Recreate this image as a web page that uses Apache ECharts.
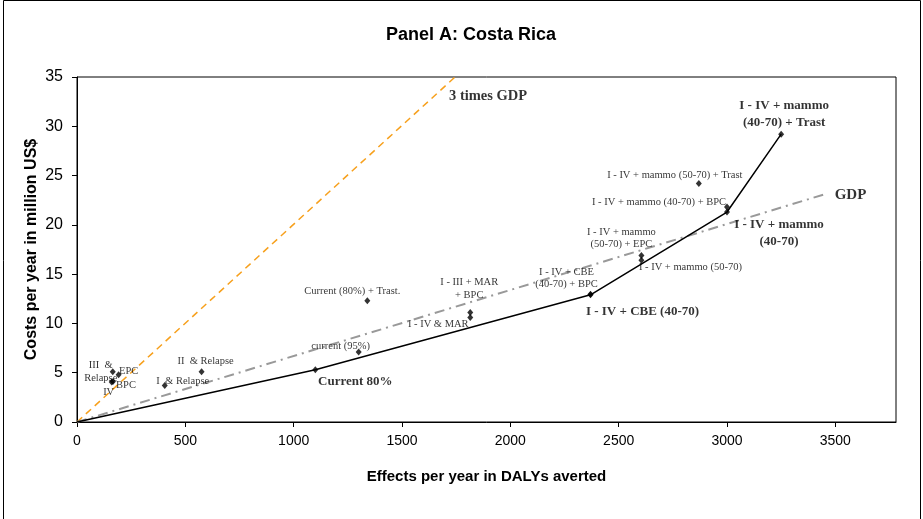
<!DOCTYPE html>
<html>
<head>
<meta charset="utf-8">
<script src="https://cdn.jsdelivr.net/npm/echarts@6/dist/echarts.min.js"></script>
<style>
  html, body { margin: 0; padding: 0; background: #fff; }
  #chart { width: 923px; height: 519px; }
</style>
</head>
<body>
<div id="chart"></div>
<script>
// Strategies that lie off the expansion path (DALYs averted per year, million US$ per year)
const otherNames = [
  'III  &\nRelapse', 'EPC', 'IV', 'BPC', 'II  & Relapse', 'I  & Relapse',
  'Current (80%) + Trast.', 'I - III + MAR\n+ BPC', 'I - IV & MAR', 'current (95%)',
  'I - IV + mammo (50-70) + Trast', 'I - IV + mammo (40-70) + BPC',
  'I - IV + mammo\n(50-70) + EPC', 'I - IV + mammo (50-70)', 'I - IV + CBE\n(40-70) + BPC'
];
const otherEffects = [165, 192, 160, 166, 575, 405, 1340, 1815, 1815, 1300, 2870, 3000, 2605, 2605, 2370];
const otherCosts   = [5.1, 4.8, 4.05, 4.1, 5.1, 3.7, 12.3, 11.1, 10.6, 7.1, 24.2, 21.8, 16.9, 16.4, 12.95];

// Expansion path (cost-effective frontier), starting at the origin
const pathNames   = ['', 'Current 80%', 'I - IV + CBE (40-70)', 'I - IV + mammo\n(40-70)', 'I - IV + mammo\n(40-70) + Trast'];
const pathEffects = [0, 1100, 2370, 3000, 3250];
const pathCosts   = [0, 5.3, 12.9, 21.3, 29.2];

// Willingness-to-pay thresholds
const gdpEffects  = [0, 3450];
const gdpCosts    = [0, 23.1];
const gdp3Effects = [0, 1745];
const gdp3Costs   = [0, 35];

// Label placement around each marker (pixels from the marker centre)
const labelOffset = {
  'III  &\nRelapse': [-12, 0],
  'EPC': [10, -3],
  'IV': [-3, 10],
  'BPC': [13, 4],
  'II  & Relapse': [4, -10],
  'I  & Relapse': [18, -4],
  'Current (80%) + Trast.': [-15, -10],
  'I - III + MAR\n+ BPC': [-1, -24],
  'I - IV & MAR': [-32, 7],
  'current (95%)': [-18, -6],
  'I - IV + mammo (50-70) + Trast': [-24, -8],
  'I - IV + mammo (40-70) + BPC': [-68, -5],
  'I - IV + mammo\n(50-70) + EPC': [-20, -17],
  'I - IV + mammo (50-70)': [49, 7],
  'I - IV + CBE\n(40-70) + BPC': [-24, -16],
  'Current 80%': [40, 12],
  'I - IV + CBE (40-70)': [52, 17],
  'I - IV + mammo\n(40-70)': [52, 21],
  'I - IV + mammo\n(40-70) + Trast': [3, -20]
};

const SANS = "'Liberation Sans', Arial, sans-serif";
const SERIF = "'Liberation Serif', 'Times New Roman', serif";

const pairs = (xs, ys) => xs.map((x, i) => [x, ys[i]]);

const otherData = otherNames.map((n, i) => ({
  name: n,
  value: [otherEffects[i], otherCosts[i]],
  label: {
    show: true, position: 'inside', offset: labelOffset[n], formatter: n,
    fontFamily: SERIF, fontSize: 10.5, lineHeight: 12.5, color: '#000'
  }
}));

const pathData = pathNames.map((n, i) => ({ name: n, value: [pathEffects[i], pathCosts[i]] }))
  .filter(d => d.name !== '')
  .map(d => ({
    name: d.name,
    value: d.value,
    label: {
      show: true, position: 'inside', offset: labelOffset[d.name], formatter: d.name,
      fontFamily: SERIF, fontSize: 13, fontWeight: 'bold', lineHeight: 17, color: '#000'
    }
  }));

const thresholdLabels = [
  { value: [gdp3Effects[1], gdp3Costs[1]], label: { show: true, position: 'inside', offset: [33, 19], formatter: '3 times GDP',
      fontFamily: SERIF, fontSize: 14.5, fontWeight: 'bold', color: '#000' } },
  { value: [gdpEffects[1], gdpCosts[1]], label: { show: true, position: 'inside', offset: [26, 1], formatter: 'GDP',
      fontFamily: SERIF, fontSize: 15, fontWeight: 'bold', color: '#000' } }
];

const chart = echarts.init(document.getElementById('chart'), null, { renderer: 'canvas' });

chart.setOption({
  animation: false,
  backgroundColor: '#fff',
  title: {
    text: 'Panel A: Costa Rica',
    left: 466, top: 21, textAlign: 'center',
    textStyle: { fontFamily: SANS, fontSize: 18, fontWeight: 'bold', color: '#000' }
  },
  graphic: [{
    type: 'rect', silent: true,
    shape: { x: 3.5, y: 0.5, width: 917, height: 540 },
    style: { fill: 'none', stroke: '#000', lineWidth: 1 }
  }],
  grid: {
    left: 77, right: 27, top: 77, bottom: 97,
    show: true, borderColor: '#000', borderWidth: 1, backgroundColor: 'transparent'
  },
  xAxis: {
    type: 'value', min: 0, max: 3780, interval: 500,
    name: 'Effects per year in DALYs averted', nameLocation: 'middle', nameGap: 47,
    nameTextStyle: { fontFamily: SANS, fontSize: 15, fontWeight: 'bold', color: '#000' },
    axisLine: { show: true, lineStyle: { color: '#000', width: 1 } },
    axisTick: { show: true, inside: false, length: 5, lineStyle: { color: '#000' } },
    axisLabel: { fontFamily: SANS, fontSize: 14, color: '#000', margin: 12, showMaxLabel: false,
      formatter: v => (v % 500 === 0 ? String(v) : '') },
    splitLine: { show: false }
  },
  yAxis: {
    type: 'value', min: 0, max: 35, interval: 5,
    name: 'Costs per year in million US$', nameLocation: 'middle', nameGap: 37,
    nameMoveOverlap: false,
    nameTextStyle: { fontFamily: SANS, fontSize: 16, fontWeight: 'bold', color: '#000' },
    axisLine: { show: true, lineStyle: { color: '#000', width: 1 } },
    axisTick: { show: true, inside: false, length: 5, lineStyle: { color: '#000' } },
    axisLabel: { fontFamily: SANS, fontSize: 16, color: '#000', margin: 14 },
    splitLine: { show: false }
  },
  series: [
    {
      name: '3 times GDP', type: 'line', data: pairs(gdp3Effects, gdp3Costs),
      symbol: 'none', silent: true, clip: false,
      lineStyle: { color: '#f7a01c', width: 1.5, type: [7, 5] }
    },
    {
      name: 'GDP', type: 'line', data: pairs(gdpEffects, gdpCosts),
      symbol: 'none', silent: true,
      lineStyle: { color: '#999999', width: 2, type: [10, 5, 2, 5] }
    },
    {
      name: 'Expansion path', type: 'line', data: pairs(pathEffects, pathCosts),
      symbol: 'none', silent: true,
      lineStyle: { color: '#000', width: 1.5 }
    },
    {
      name: 'Strategies', type: 'scatter', data: otherData,
      symbol: 'diamond', symbolSize: [6, 7], itemStyle: { color: '#000' }, z: 5
    },
    {
      name: 'Path strategies', type: 'scatter', data: pathData,
      symbol: 'diamond', symbolSize: [6, 7], itemStyle: { color: '#000' }, z: 5
    },
    {
      name: 'Threshold labels', type: 'scatter', data: thresholdLabels,
      symbolSize: 0, silent: true, z: 6
    }
  ]
});
</script>
</body>
</html>
